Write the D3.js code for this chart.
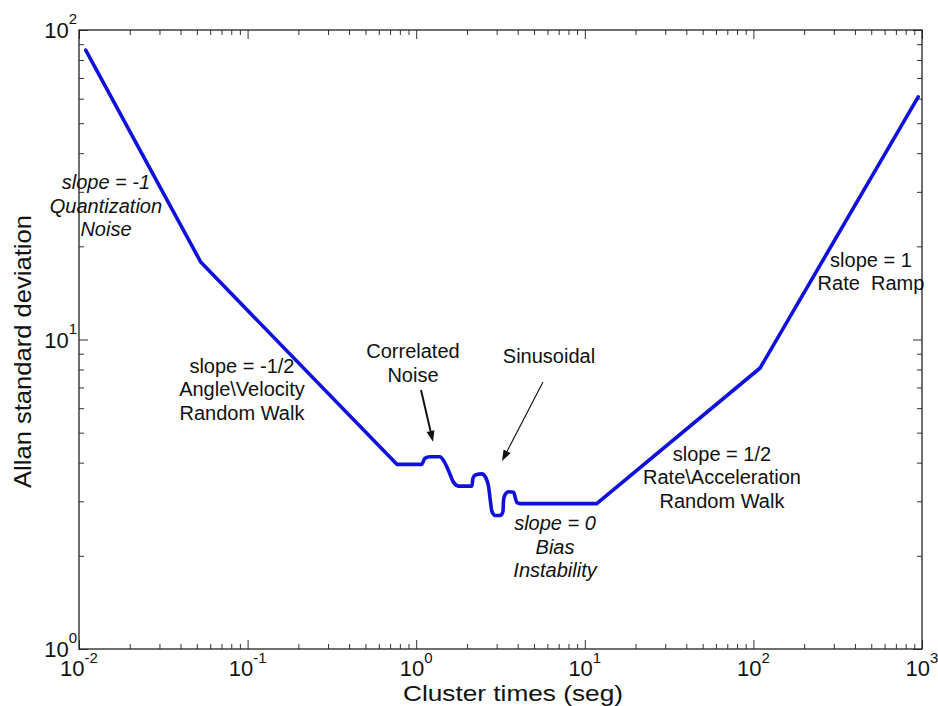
<!DOCTYPE html>
<html><head><meta charset="utf-8">
<script src="https://cdn.jsdelivr.net/npm/d3@7"></script>
<style>
body{margin:0;background:#fff;}
svg{display:block;}
text{font-family:"Liberation Sans", Arial, Helvetica, sans-serif;fill:#111;}
</style>
</head><body>
<svg id="chart" width="938" height="706"></svg>
<script>
// ---- data (cluster time tau [s], Allan deviation) ----
const tau = [0.01096, 0.0527, 0.768, 1.076, 1.126, 1.206, 1.382, 1.446, 1.549, 1.658,
             1.782, 2.141, 2.170, 2.240, 2.455, 2.568, 2.686, 2.750, 2.814, 2.944,
             3.152, 3.270, 3.297, 3.375, 3.530, 3.781, 3.869, 3.960, 4.142, 11.77,
             109.6, 949.5];
const sigma = [86.1, 17.8, 3.95, 3.95, 4.13, 4.18, 4.18, 4.08, 3.79, 3.47,
               3.36, 3.36, 3.56, 3.65, 3.68, 3.60, 3.35, 3.03, 2.78, 2.70,
               2.70, 2.78, 3.03, 3.16, 3.22, 3.21, 3.08, 2.97, 2.95, 2.95,
               8.09, 60.8];
// index range of the smooth (correlated / sinusoidal) part
const smoothStart = 2, smoothEnd = 29;

const xTickExps = [-2, -1, 0, 1, 2, 3];
const yTickExps = [0, 1, 2];
const xTitle = "Cluster times (seg)";
const yTitle = "Allan standard deviation";

const annoLines = [
  ["slope = -1", "Quantization", "Noise"],
  ["slope = -1/2", "Angle\\Velocity", "Random Walk"],
  ["Correlated", "Noise"],
  ["Sinusoidal"],
  ["slope = 0", "Bias", "Instability"],
  ["slope = 1/2", "Rate\\Acceleration", "Random Walk"],
  ["slope = 1", "Rate  Ramp"]
];
const annoTau   = [0.01445, 0.0926, 0.957, 6.13, 6.66, 65.1, 498];
const annoSigma = [30.6, 7.80, 8.71, 8.40, 2.42, 4.05, 17.15];
const annoItalic = [true, false, false, false, true, false, false];

const arrowFromTau = [1.068, 5.65], arrowFromSigma = [6.87, 7.29];
const arrowToTau = [1.258, 3.23], arrowToSigma = [4.67, 4.05];
const arrowWidth = [2, 1.1];

// ---- layout ----
const W = 938, H = 706;
const m = {left: 79, right: 16, top: 30, bottom: 57};
const svg = d3.select("#chart");
svg.append("rect").attr("width", W).attr("height", H).attr("fill", "#fff");

const x = d3.scaleLog().domain([1e-2, 1e3]).range([m.left, W - m.right]);
const y = d3.scaleLog().domain([1, 100]).range([H - m.bottom, m.top]);

const xMajor = xTickExps.map(e => Math.pow(10, e));
const yMajor = yTickExps.map(e => Math.pow(10, e));
const xMinor = [], yMinor = [];
for (let e = -2; e < 3; e++) for (let k = 2; k <= 9; k++) xMinor.push(k * Math.pow(10, e));
for (let e = 0; e < 2; e++) for (let k = 2; k <= 9; k++) yMinor.push(k * Math.pow(10, e));

function tickGroup(axisGen, tr) {
  const g = svg.append("g").attr("transform", tr).call(axisGen);
  g.select(".domain").remove();
  g.selectAll("line").attr("stroke", "#333").attr("stroke-width", 1);
  g.selectAll("text").remove();
  return g;
}
const bx = `translate(0,${y(1)})`, tx = `translate(0,${y(100)})`;
const lx = `translate(${x(1e-2)},0)`, rx = `translate(${x(1e3)},0)`;
[[xMajor, 9], [xMinor, 5]].forEach(([v, s]) => {
  tickGroup(d3.axisBottom(x).tickValues(v).tickSize(-s).tickSizeOuter(0), bx);
  tickGroup(d3.axisTop(x).tickValues(v).tickSize(-s).tickSizeOuter(0), tx);
});
[[yMajor, 9], [yMinor, 5]].forEach(([v, s]) => {
  tickGroup(d3.axisLeft(y).tickValues(v).tickSize(-s).tickSizeOuter(0), lx);
  tickGroup(d3.axisRight(y).tickValues(v).tickSize(-s).tickSizeOuter(0), rx);
});

// frame
svg.append("rect")
  .attr("x", x(1e-2)).attr("y", y(100))
  .attr("width", x(1e3) - x(1e-2)).attr("height", y(1) - y(100))
  .attr("fill", "none").attr("stroke", "#222").attr("stroke-width", 1.3);

// tick labels
xTickExps.forEach(e => {
  const t = svg.append("text").attr("x", x(Math.pow(10, e))).attr("y", y(1) + 27)
    .attr("text-anchor", "middle").attr("font-size", 22);
  t.append("tspan").text("10");
  t.append("tspan").attr("font-size", 15).attr("dy", -13).text(String(e));
});
yTickExps.forEach(e => {
  const t = svg.append("text").attr("x", m.left - 2).attr("y", y(Math.pow(10, e)) + 8)
    .attr("text-anchor", "end").attr("font-size", 22);
  t.append("tspan").text("10");
  t.append("tspan").attr("font-size", 15).attr("dy", -14).text(String(e));
});

// axis titles
svg.append("text").attr("x", 403).attr("y", 700.5).attr("font-size", 21.5)
  .attr("textLength", 220).attr("lengthAdjust", "spacingAndGlyphs").text(xTitle);
svg.append("text").attr("transform", "translate(31,488) rotate(-90)")
  .attr("font-size", 24).attr("textLength", 273).attr("lengthAdjust", "spacingAndGlyphs")
  .text(yTitle);

// curve
const pts = tau.map((t, i) => [t, sigma[i]]);
const lin = d3.line().x(d => x(d[0])).y(d => y(d[1]));
const smooth = d3.line().x(d => x(d[0])).y(d => y(d[1])).curve(d3.curveMonotoneX);
const dStr = lin(pts.slice(0, smoothStart + 1)) + smooth(pts.slice(smoothStart, smoothEnd + 1)) + lin(pts.slice(smoothEnd));
svg.append("path").attr("d", dStr).attr("fill", "none")
  .attr("stroke", "#1010dc").attr("stroke-width", 3.6)
  .attr("stroke-linecap", "round").attr("stroke-linejoin", "round");

// annotations
annoLines.forEach((lines, i) => {
  const t = svg.append("text").attr("text-anchor", "middle").attr("font-size", 20)
    .attr("font-style", annoItalic[i] ? "italic" : "normal")
    .attr("x", x(annoTau[i])).attr("y", y(annoSigma[i]));
  lines.forEach((s, j) => {
    t.append("tspan").attr("x", x(annoTau[i])).attr("dy", j === 0 ? 0 : 23.5)
      .attr("xml:space", "preserve").style("white-space", "pre").text(s);
  });
});

// arrows
arrowFromTau.forEach((_, i) => {
  const x1 = x(arrowFromTau[i]), y1 = y(arrowFromSigma[i]);
  const x2 = x(arrowToTau[i]), y2 = y(arrowToSigma[i]);
  const a = Math.atan2(y2 - y1, x2 - x1);
  const L = 11, hw = 4;
  const bxp = x2 - L * Math.cos(a), byp = y2 - L * Math.sin(a);
  svg.append("line").attr("x1", x1).attr("y1", y1).attr("x2", bxp).attr("y2", byp)
    .attr("stroke", "#111").attr("stroke-width", arrowWidth[i]);
  const p = [[x2, y2],
    [bxp + hw * Math.sin(a), byp - hw * Math.cos(a)],
    [bxp - hw * Math.sin(a), byp + hw * Math.cos(a)]];
  svg.append("polygon").attr("points", p.map(q => q.join(",")).join(" ")).attr("fill", "#111");
});
</script>
</body></html>
